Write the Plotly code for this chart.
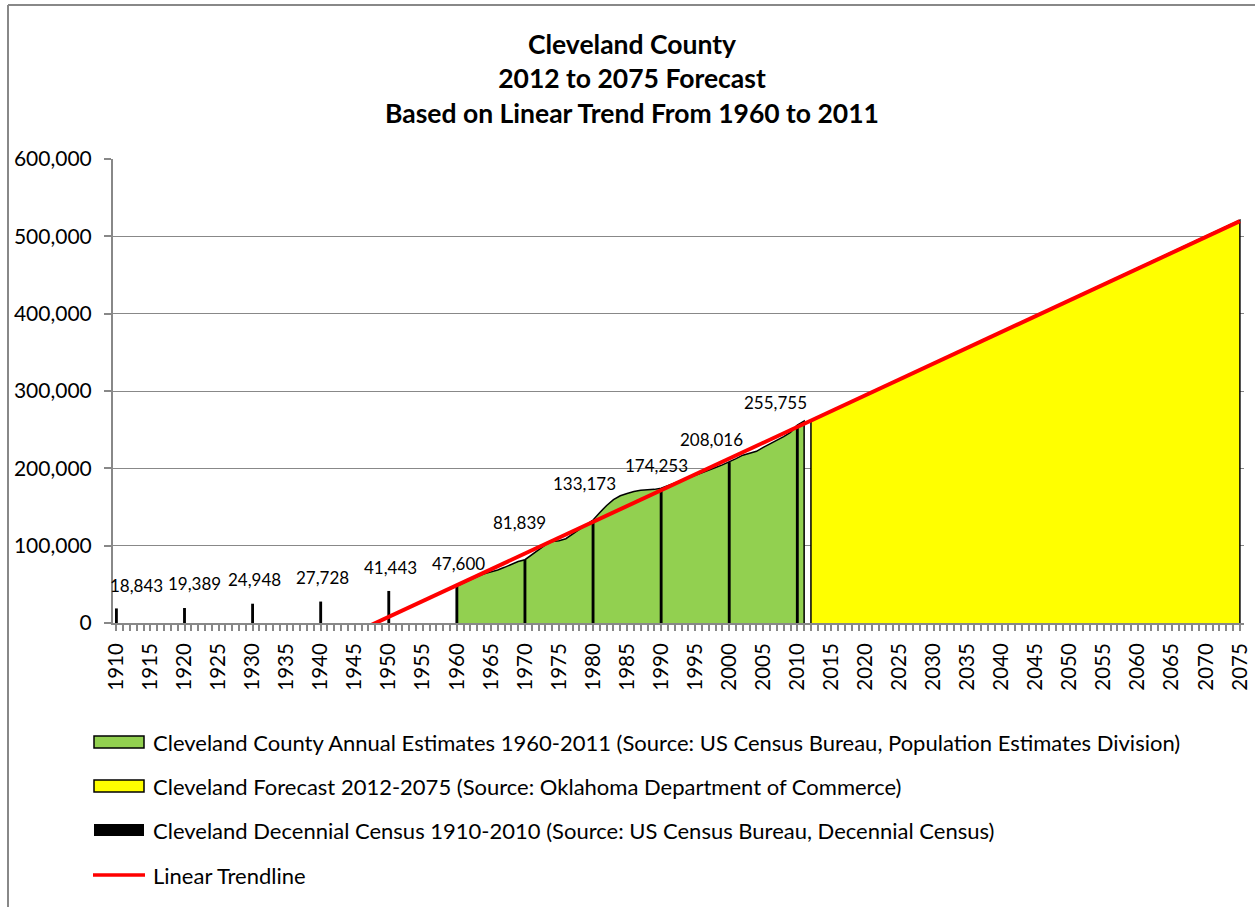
import numpy as np
import plotly.graph_objects as go

# ---------------- data ----------------
census_years = [1910, 1920, 1930, 1940, 1950, 1960, 1970, 1980, 1990, 2000, 2010]
census_values = [18843, 19389, 24948, 27728, 41443, 47600, 81839, 133173, 174253, 208016, 255755]
census_labels = ["18,843", "19,389", "24,948", "27,728", "41,443", "47,600",
                 "81,839", "133,173", "174,253", "208,016", "255,755"]

est_years = list(range(1960, 2012))
est_values = [47600, 52000, 56500, 60000, 63500, 66000, 68500, 72000, 76000, 79500,
              81839, 88000, 95000, 101000, 105500, 106500, 109000, 115000, 121000, 127000,
              133173, 143000, 152000, 159500, 164500, 167500, 170000, 171500, 172000, 172800,
              174253, 177500, 181000, 184500, 188000, 191500, 194500, 197500, 201000, 204500,
              208016, 212500, 217000, 219500, 222000, 227000, 231500, 236500, 241000, 246500,
              256000, 261000]

fc_years = list(range(2012, 2076))
fc_values = [261800, 265910, 270020, 274130, 278240, 282350, 286460, 290570, 294680, 298790,
             302900, 307010, 311120, 315230, 319340, 323450, 327560, 331670, 335780, 339890,
             344000, 348110, 352220, 356330, 360440, 364550, 368660, 372770, 376880, 380990,
             385100, 389210, 393320, 397430, 401540, 405650, 409760, 413870, 417980, 422090,
             426200, 430310, 434420, 438530, 442640, 446750, 450860, 454970, 459080, 463190,
             467300, 471410, 475520, 479630, 483740, 487850, 491960, 496070, 500180, 504290,
             508400, 512510, 516620, 520730]

# label offsets (pixels) for the census data labels
label_dx = [20, 10, 2, 2, 2, 2, -5, -9, -5, -18, -22]
label_dy = [23, 25, 24, 24, 23, 23, 37, 37, 23, 23, 23]

names = [
    "Cleveland County Annual Estimates 1960-2011 (Source: US Census Bureau, Population Estimates Division)",
    "Cleveland Forecast 2012-2075 (Source: Oklahoma Department of Commerce)",
    "Cleveland Decennial Census 1910-2010 (Source: US Census Bureau, Decennial Census)",
    "Linear Trendline",
]
GREEN, YELLOW, BLACK, RED = "#92D050", "#FFFF00", "#000000", "#FF0000"

FONT = "Lato"
GRID = "#888888"

# linear trend fitted on the annual estimates
coef = np.polyfit(est_years, est_values, 1)
trend_x = np.array([census_years[0], fc_years[-1]], dtype=float)
trend_y = np.polyval(coef, trend_x)

fig = go.Figure()

fig.add_trace(go.Scatter(
    x=[est_years[0]] + est_years + [est_years[-1]],
    y=[0] + est_values + [0],
    fill="toself", fillcolor=GREEN, mode="lines",
    line=dict(color="black", width=1.5), name=names[0], showlegend=False,
))
fig.add_trace(go.Scatter(
    x=[fc_years[0]] + fc_years + [fc_years[-1]],
    y=[0] + fc_values + [0],
    fill="toself", fillcolor=YELLOW, mode="lines",
    line=dict(color="black", width=1.5), name=names[1], showlegend=False,
))
fig.add_trace(go.Bar(
    x=census_years, y=census_values, width=0.42,
    marker=dict(color=BLACK, line=dict(width=0)),
    name=names[2], xaxis="x2", yaxis="y2", showlegend=False,
))
fig.add_trace(go.Scatter(
    x=trend_x, y=trend_y, mode="lines",
    line=dict(color=RED, width=4), name=names[3],
    xaxis="x2", yaxis="y2", showlegend=False,
))

for yr, v, t, dx, dy in zip(census_years, census_values, census_labels, label_dx, label_dy):
    fig.add_annotation(x=yr, y=v, xref="x", yref="y", text=t, showarrow=False,
                       xshift=dx, yshift=dy, font=dict(family=FONT, size=17, color="black"))

W, H = 1255, 907
L, R, T, B = 113, 11, 159, 284
pw, ph = W - L - R, H - T - B

def px(x):
    return (x - L) / pw

def py(y):
    return (H - B - y) / ph

# outer chart border (left and top edges visible)
fig.add_shape(type="line", xref="paper", yref="paper", x0=px(8), x1=px(8), y0=py(5), y1=py(910),
              line=dict(color=GRID, width=2))
fig.add_shape(type="line", xref="paper", yref="paper", x0=px(8), x1=px(1258), y0=py(5), y1=py(5),
              line=dict(color=GRID, width=2))

# legend drawn by hand (wide rectangle keys like the original)
rows = [742, 786, 830, 875]
kinds = ["area", "area", "bar", "line"]
colors = [GREEN, YELLOW, BLACK, RED]
for yc, kind, col, nm in zip(rows, kinds, colors, names):
    if kind == "line":
        fig.add_shape(type="line", xref="paper", yref="paper", x0=px(93), x1=px(145),
                      y0=py(yc), y1=py(yc), line=dict(color=col, width=3.5))
    else:
        fig.add_shape(type="rect", xref="paper", yref="paper", x0=px(94), x1=px(144),
                      y0=py(yc - 6), y1=py(yc + 6), fillcolor=col,
                      line=dict(color="black", width=1.5 if kind == "area" else 0))
    fig.add_annotation(xref="paper", yref="paper", x=px(151), y=py(yc), xanchor="left",
                       yanchor="middle", text=nm, showarrow=False,
                       font=dict(family=FONT, size=22, color="black"))

xr = [1909.5, 2075.6]
yr_ = [0, 600000]
fig.update_layout(
    width=W, height=H,
    margin=dict(l=L, r=R, t=T, b=B, autoexpand=False),
    paper_bgcolor="white", plot_bgcolor="white",
    font=dict(family=FONT, color="black"),
    title=dict(
        text="<b>Cleveland County</b><br><b>2012 to 2075 Forecast</b><br><b>Based on Linear Trend From 1960 to 2011</b>",
        x=632 / W, xanchor="center", xref="container",
        y=1 - 54 / H, yanchor="top", yref="container",
        font=dict(family=FONT, size=26.5, color="black"),
    ),
    xaxis=dict(
        range=xr, tickmode="array", tickvals=list(range(1910, 2076, 5)),
        tickangle=-90, ticks="outside", ticklen=6, tickwidth=1.5, tickcolor=GRID,
        minor=dict(dtick=1, tick0=1910, ticks="outside", ticklen=6, tickwidth=1.5, tickcolor=GRID),
        showline=True, linecolor=GRID, linewidth=2, showgrid=False, zeroline=False,
        tickfont=dict(family=FONT, size=20.5), ticklabelstandoff=4,
    ),
    yaxis=dict(
        range=yr_, dtick=100000, tickformat=",", ticks="outside", ticklen=7,
        tickcolor=GRID, tickwidth=1.5, showline=True, linecolor=GRID, linewidth=2,
        showgrid=True, gridcolor=GRID, gridwidth=1.3, zeroline=False,
        tickfont=dict(family=FONT, size=21), ticklabelstandoff=8,
    ),
    xaxis2=dict(range=xr, overlaying="x", visible=False),
    yaxis2=dict(range=yr_, overlaying="y", visible=False),
    showlegend=False,
)

fig.write_html(
    "out.html",
    config={"displayModeBar": False},
    post_script="document.body.style.margin='0';document.body.style.overflow='hidden';"
                "document.documentElement.style.overflow='hidden';",
)
